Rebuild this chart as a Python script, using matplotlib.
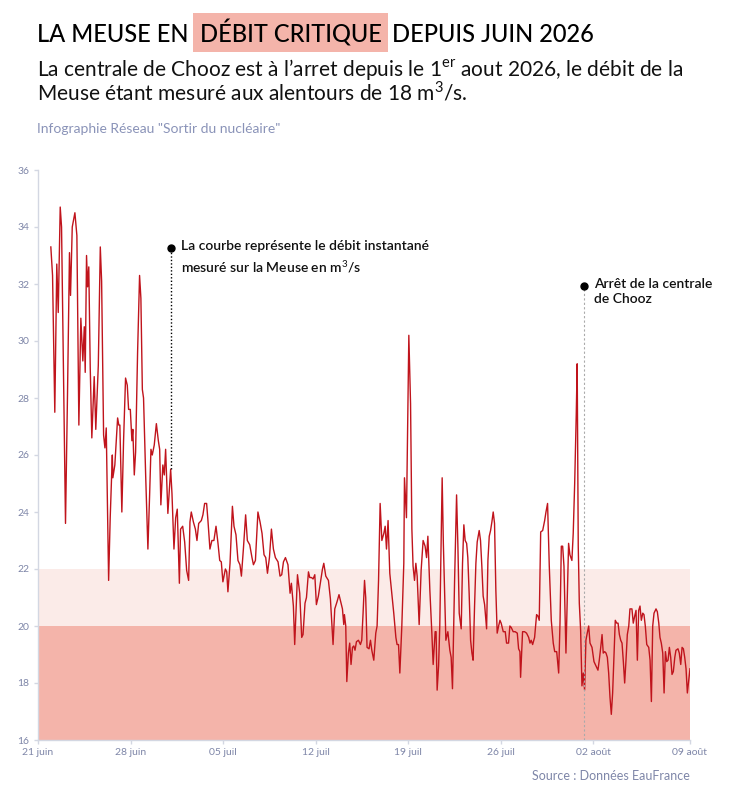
import matplotlib
matplotlib.use("Agg")
import matplotlib.pyplot as plt

# Data: days since 21 June 2026 (00:00) and instantaneous flow in m3/s
days = [
    0.97, 1.10, 1.27, 1.42, 1.53, 1.68, 1.78, 1.88, 1.93, 2.08, 2.23, 2.38, 2.46, 2.59,
    2.79, 2.94, 3.09, 3.24, 3.39, 3.50, 3.57, 3.67, 3.75, 3.84, 3.95, 4.07, 4.25, 4.37,
    4.56, 4.71, 4.81, 4.96, 5.06, 5.16, 5.34, 5.46, 5.62, 5.66, 5.81, 6.02, 6.11, 6.19,
    6.34, 6.47, 6.62, 6.75, 6.85, 6.98, 7.10, 7.17, 7.28, 7.38, 7.53, 7.68, 7.78, 7.89,
    7.98, 8.14, 8.31, 8.44, 8.54, 8.64, 8.79, 8.95, 9.10, 9.20, 9.29, 9.44, 9.55, 9.65,
    9.82, 10.03, 10.13, 10.28, 10.41, 10.53, 10.69, 10.78, 10.94, 11.09, 11.24, 11.39,
    11.49, 11.59, 11.75, 11.90, 12.02, 12.15, 12.35, 12.47, 12.60, 12.75, 12.85, 13.00,
    13.15, 13.30, 13.46, 13.61, 13.74, 13.86, 13.98, 14.17, 14.27, 14.36, 14.52, 14.70,
    14.82, 14.97, 15.12, 15.27, 15.38, 15.53, 15.70, 15.83, 16.01, 16.18, 16.29, 16.44,
    16.63, 16.79, 16.94, 17.09, 17.22, 17.35, 17.50, 17.65, 17.80, 17.95, 18.15, 18.30,
    18.43, 18.56, 18.71, 18.90, 19.06, 19.16, 19.31, 19.41, 19.62, 19.79, 19.94, 20.04,
    20.19, 20.30, 20.45, 20.55, 20.68, 20.80, 20.93, 21.05, 21.20, 21.36, 21.51, 21.61,
    21.76, 21.96, 22.11, 22.31, 22.44, 22.61, 22.76, 22.92, 23.02, 23.12, 23.17, 23.27,
    23.35, 23.47, 23.57, 23.67, 23.78, 23.88, 23.97, 24.08, 24.23, 24.38, 24.48, 24.58,
    24.69, 24.78, 24.88, 25.03, 25.14, 25.24, 25.39, 25.54, 25.64, 25.75, 25.87, 26.00,
    26.15, 26.25, 26.35, 26.47, 26.60, 26.75, 26.90, 27.06, 27.15, 27.26, 27.36, 27.51,
    27.66, 27.71, 27.86, 28.04, 28.17, 28.27, 28.36, 28.47, 28.57, 28.67, 28.82, 28.97,
    29.12, 29.27, 29.38, 29.48, 29.63, 29.78, 29.88, 30.03, 30.10, 30.18, 30.29, 30.38,
    30.48, 30.56, 30.65, 30.84, 30.99, 31.14, 31.24, 31.34, 31.50, 31.65, 31.75, 31.85,
    32.00, 32.10, 32.20, 32.30, 32.41, 32.50, 32.60, 32.71, 32.81, 32.90, 33.01, 33.11,
    33.21, 33.36, 33.46, 33.56, 33.66, 33.77, 33.92, 34.02, 34.12, 34.22, 34.32, 34.42,
    34.52, 34.62, 34.72, 34.83, 34.93, 35.02, 35.18, 35.33, 35.43, 35.58, 35.68, 35.78,
    35.93, 36.08, 36.24, 36.34, 36.44, 36.49, 36.64, 36.79, 36.94, 37.10, 37.20, 37.29,
    37.40, 37.55, 37.70, 37.80, 37.90, 38.01, 38.16, 38.31, 38.41, 38.53, 38.66, 38.81,
    38.96, 39.07, 39.22, 39.37, 39.47, 39.57, 39.67, 39.77, 39.92, 40.02, 40.12, 40.22,
    40.37, 40.47, 40.58, 40.70, 40.77, 40.85, 40.93, 41.03, 41.13, 41.23, 41.33, 41.43,
    41.53, 41.64, 41.74, 41.89, 42.04, 42.19, 42.34, 42.44, 42.55, 42.65, 42.74, 42.85,
    42.95, 43.05, 43.15, 43.25, 43.35, 43.45, 43.55, 43.65, 43.76, 43.86, 43.96, 44.06,
    44.16, 44.26, 44.36, 44.46, 44.56, 44.67, 44.76, 44.91, 45.01, 45.12, 45.22, 45.32,
    45.42, 45.52, 45.62, 45.73, 45.82, 45.92, 46.03, 46.18, 46.28, 46.38, 46.48, 46.58,
    46.73, 46.83, 46.94, 47.03, 47.13, 47.24, 47.34, 47.44, 47.54, 47.64, 47.74, 47.84,
    47.94, 48.04, 48.15, 48.24, 48.39, 48.49, 48.60, 48.70, 48.80, 48.90, 49.00, 49.10,
    49.21, 49.30,
]
debit = [
    33.3, 32.3, 27.5, 32.7, 31.0, 34.7, 34.0, 30.5, 28.9, 23.6, 28.1, 33.1, 31.6, 34.0,
    34.5, 33.7, 27.05, 30.8, 29.3, 30.5, 28.9, 33.0, 31.9, 32.6, 29.05, 26.6, 28.75, 26.9,
    29.15, 33.3, 32.1, 26.7, 26.25, 26.95, 21.6, 23.8, 26.0, 25.2, 25.65, 27.3, 27.05, 27.05,
    24.0, 26.5, 28.7, 28.45, 27.6, 27.6, 26.5, 26.9, 25.3, 26.1, 29.6, 32.3, 31.5, 28.3,
    28.0, 25.3, 22.7, 24.6, 26.2, 26.0, 26.35, 27.1, 26.5, 26.2, 24.25, 25.65, 25.3, 26.2,
    23.95, 25.5, 24.65, 22.7, 23.8, 24.1, 21.5, 23.4, 23.5, 22.95, 21.95, 21.6,
    23.65, 24.0, 23.65, 23.4, 23.0, 23.6, 23.7, 23.9, 24.3, 24.3, 23.7, 22.7,
    23.0, 23.0, 23.5, 22.9, 22.3, 22.25, 21.55, 22.0, 21.9, 21.2, 22.2, 24.2,
    23.5, 23.2, 22.3, 22.15, 21.75, 22.7, 23.9, 23.0, 22.85, 22.4, 22.15, 22.3,
    24.0, 23.65, 23.25, 22.5, 22.4, 21.85, 22.4, 23.4, 22.7, 22.4, 22.25, 21.75,
    21.8, 22.25, 22.4, 22.15, 21.15, 21.5, 20.7, 19.35, 21.8, 21.15, 19.6, 19.7,
    20.8, 21.0, 21.9, 21.7, 21.7, 21.65, 21.8, 20.75, 21.05, 21.55, 22.0, 22.2,
    21.75, 21.6, 20.95, 19.35, 20.6, 20.85, 21.1, 20.8, 20.6, 20.05, 20.4, 20.0,
    18.05, 19.05, 19.4, 18.65, 19.25, 19.3, 19.15, 19.45, 19.5, 19.35, 19.5, 20.45,
    21.6, 21.0, 19.25, 19.2, 19.5, 19.15, 18.8, 19.75, 20.0, 21.6, 24.3, 23.0,
    23.25, 23.5, 22.7, 23.7, 21.85, 21.15, 20.45, 19.6, 19.35, 19.35, 18.35, 20.0,
    22.2, 25.2, 23.8, 30.2, 27.8, 23.4, 22.1, 21.6, 22.2, 21.75, 20.05, 21.95,
    23.0, 22.8, 22.4, 23.15, 21.25, 19.75, 18.65, 19.8, 19.8, 17.75, 18.6, 20.0,
    22.8, 25.2, 22.9, 19.5, 19.8, 19.15, 18.9, 17.8, 21.6, 24.6, 22.8, 20.45,
    19.9, 22.2, 23.55, 23.0, 22.9, 22.4, 21.15, 19.5, 19.05, 18.8, 20.7, 22.2,
    22.95, 23.35, 23.0, 22.1, 21.05, 20.75, 19.9, 22.3, 23.15, 23.35, 23.65, 24.0,
    23.6, 21.25, 19.75, 20.0, 20.2, 20.1, 19.8, 19.8, 19.4, 19.4, 20.0, 19.95,
    19.8, 19.8, 19.75, 19.2, 19.1, 18.2, 19.8, 19.8, 19.75, 19.6, 19.4, 19.5,
    19.35, 19.6, 20.4, 20.35, 20.2, 23.3, 23.35, 23.7, 24.0, 24.3, 22.1, 20.2,
    19.4, 19.1, 19.1, 18.35, 20.1, 22.8, 22.8, 22.1, 19.05, 20.9, 22.9, 22.5,
    22.3, 23.25, 25.0, 27.45, 29.2, 22.8, 20.8, 19.85, 17.9, 18.35, 17.75, 19.5,
    19.75, 20.0, 19.4, 19.25, 18.75, 18.6, 18.45, 18.8, 19.25, 19.7, 19.05, 19.1,
    19.05, 18.9, 18.35, 17.5, 16.9, 17.65, 18.9, 20.2, 20.1, 20.1, 19.7, 19.5,
    19.4, 18.75, 18.0, 18.8, 19.7, 20.0, 20.6, 20.6, 20.1, 20.35, 20.55, 18.8,
    20.55, 20.7, 20.2, 20.45, 20.4, 20.0, 19.35, 19.25, 18.8, 17.35, 20.0, 20.45,
    20.6, 20.5, 20.1, 19.6, 19.4, 19.05, 17.65, 19.1, 18.75, 18.8, 19.25, 18.9,
    18.3, 18.4, 18.9, 19.15, 19.2, 19.05, 18.65, 19.25, 19.2, 18.9, 18.5, 17.65,
    18.1, 18.5,
]

tick_days = [0, 7, 14, 21, 28, 35, 42, 49.3]
tick_labels = ["21 juin", "28 juin", "05 juil", "12 juil", "19 juil", "26 juil", "02 août", "09 août"]
y_ticks = list(range(16, 37, 2))

seuil_critique = 20
seuil_alerte = 22

note_courbe = (10.03, 33.26, 25.5)   # day, dot value, line bottom
note_arret = (41.28, 31.93)

plt.rcParams["font.family"] = ["Lato", "DejaVu Sans"]
plt.rcParams["mathtext.fontset"] = "custom"
plt.rcParams["mathtext.rm"] = "Lato"

grey_blue = "#7e86a8"
red = "#c0141c"

fig = plt.figure(figsize=(7.39, 7.93), dpi=100, facecolor="white")
ax = fig.add_axes([38 / 739, 53 / 793, 652 / 739, 570 / 793])

# Threshold bands
ax.axhspan(16, seuil_critique, color="#f4b4aa", lw=0, zorder=0)
ax.axhspan(seuil_critique, seuil_alerte, color="#fbebe8", lw=0, zorder=0)

ax.plot(days, debit, color=red, lw=1.0, zorder=3)

ax.set_xlim(0, 49.3)
ax.set_ylim(16, 36)
ax.set_xticks(tick_days)
ax.set_xticklabels(tick_labels)
ax.set_yticks(y_ticks)
ax.tick_params(axis="both", colors="#d3d7e2", labelcolor=grey_blue, labelsize=7.5,
               length=3, width=1)
ax.tick_params(axis="x", pad=3)
ax.tick_params(axis="y", pad=3)
for side in ["top", "right"]:
    ax.spines[side].set_visible(False)
for side in ["left", "bottom"]:
    ax.spines[side].set_color("#d3d7e2")
    ax.spines[side].set_linewidth(1)

# Annotation: the curve
d, v, vb = note_courbe
ax.plot([d, d], [vb, v], color="black", lw=1, ls=(0, (1, 1.5)), zorder=4)
ax.plot(d, v, "o", color="black", ms=5, zorder=5)
ax.annotate("La courbe représente le débit instantané\nmesuré sur la Meuse en m$^3$/s",
            xy=(d, v), xytext=(10, 8), textcoords="offset pixels",
            ha="left", va="top", fontsize=10, fontweight="semibold",
            linespacing=1.45, color="#111111")

# Annotation: plant shutdown
d, v = note_arret
ax.plot([d, d], [16, v], color="#aaaaaa", lw=0.8, ls=(0, (2, 2)), zorder=4)
ax.plot(d, v, "o", color="black", ms=5, zorder=5)
ax.annotate("Arrêt de la centrale\nde Chooz",
            xy=(d, v), xytext=(10, 8), textcoords="offset pixels",
            ha="left", va="top", fontsize=10, fontweight="semibold",
            linespacing=1.3, color="#111111")

# Title with highlighted words
t1 = fig.text(37 / 739, 1 - 42 / 793, "LA MEUSE EN", fontsize=17, fontweight="medium",
              color="black", va="baseline")
t2 = ax.annotate("DÉBIT CRITIQUE", xy=(1, 0), xycoords=t1, xytext=(11, 0),
                 textcoords="offset pixels", fontsize=17, fontweight="medium",
                 va="bottom", annotation_clip=False,
                 bbox=dict(boxstyle="square,pad=0.27", fc="#f4b4aa", ec="none"))
t3 = ax.annotate("DEPUIS JUIN 2026", xy=(1, 0), xycoords=t2, xytext=(11, 0),
                 textcoords="offset pixels", fontsize=17, fontweight="medium",
                 va="bottom", annotation_clip=False)

fig.text(37 / 739, 1 - 76 / 793,
         "La centrale de Chooz est à l’arret depuis le 1$^{\\mathrm{er}}$ aout 2026, le débit de la",
         fontsize=15, color="#111111", va="baseline")
fig.text(37 / 739, 1 - 100 / 793,
         "Meuse étant mesuré aux alentours de 18 m$^3$/s.",
         fontsize=15, color="#111111", va="baseline")

fig.text(37 / 739, 1 - 133 / 793, "Infographie Réseau \"Sortir du nucléaire\"",
         fontsize=10, color="#8a93b8", va="baseline")

fig.text(690 / 739, 1 - 780 / 793, "Source : Données EauFrance",
         fontsize=9, color=grey_blue, ha="right", va="baseline")

fig.savefig("out.png", dpi=100, facecolor="white")
